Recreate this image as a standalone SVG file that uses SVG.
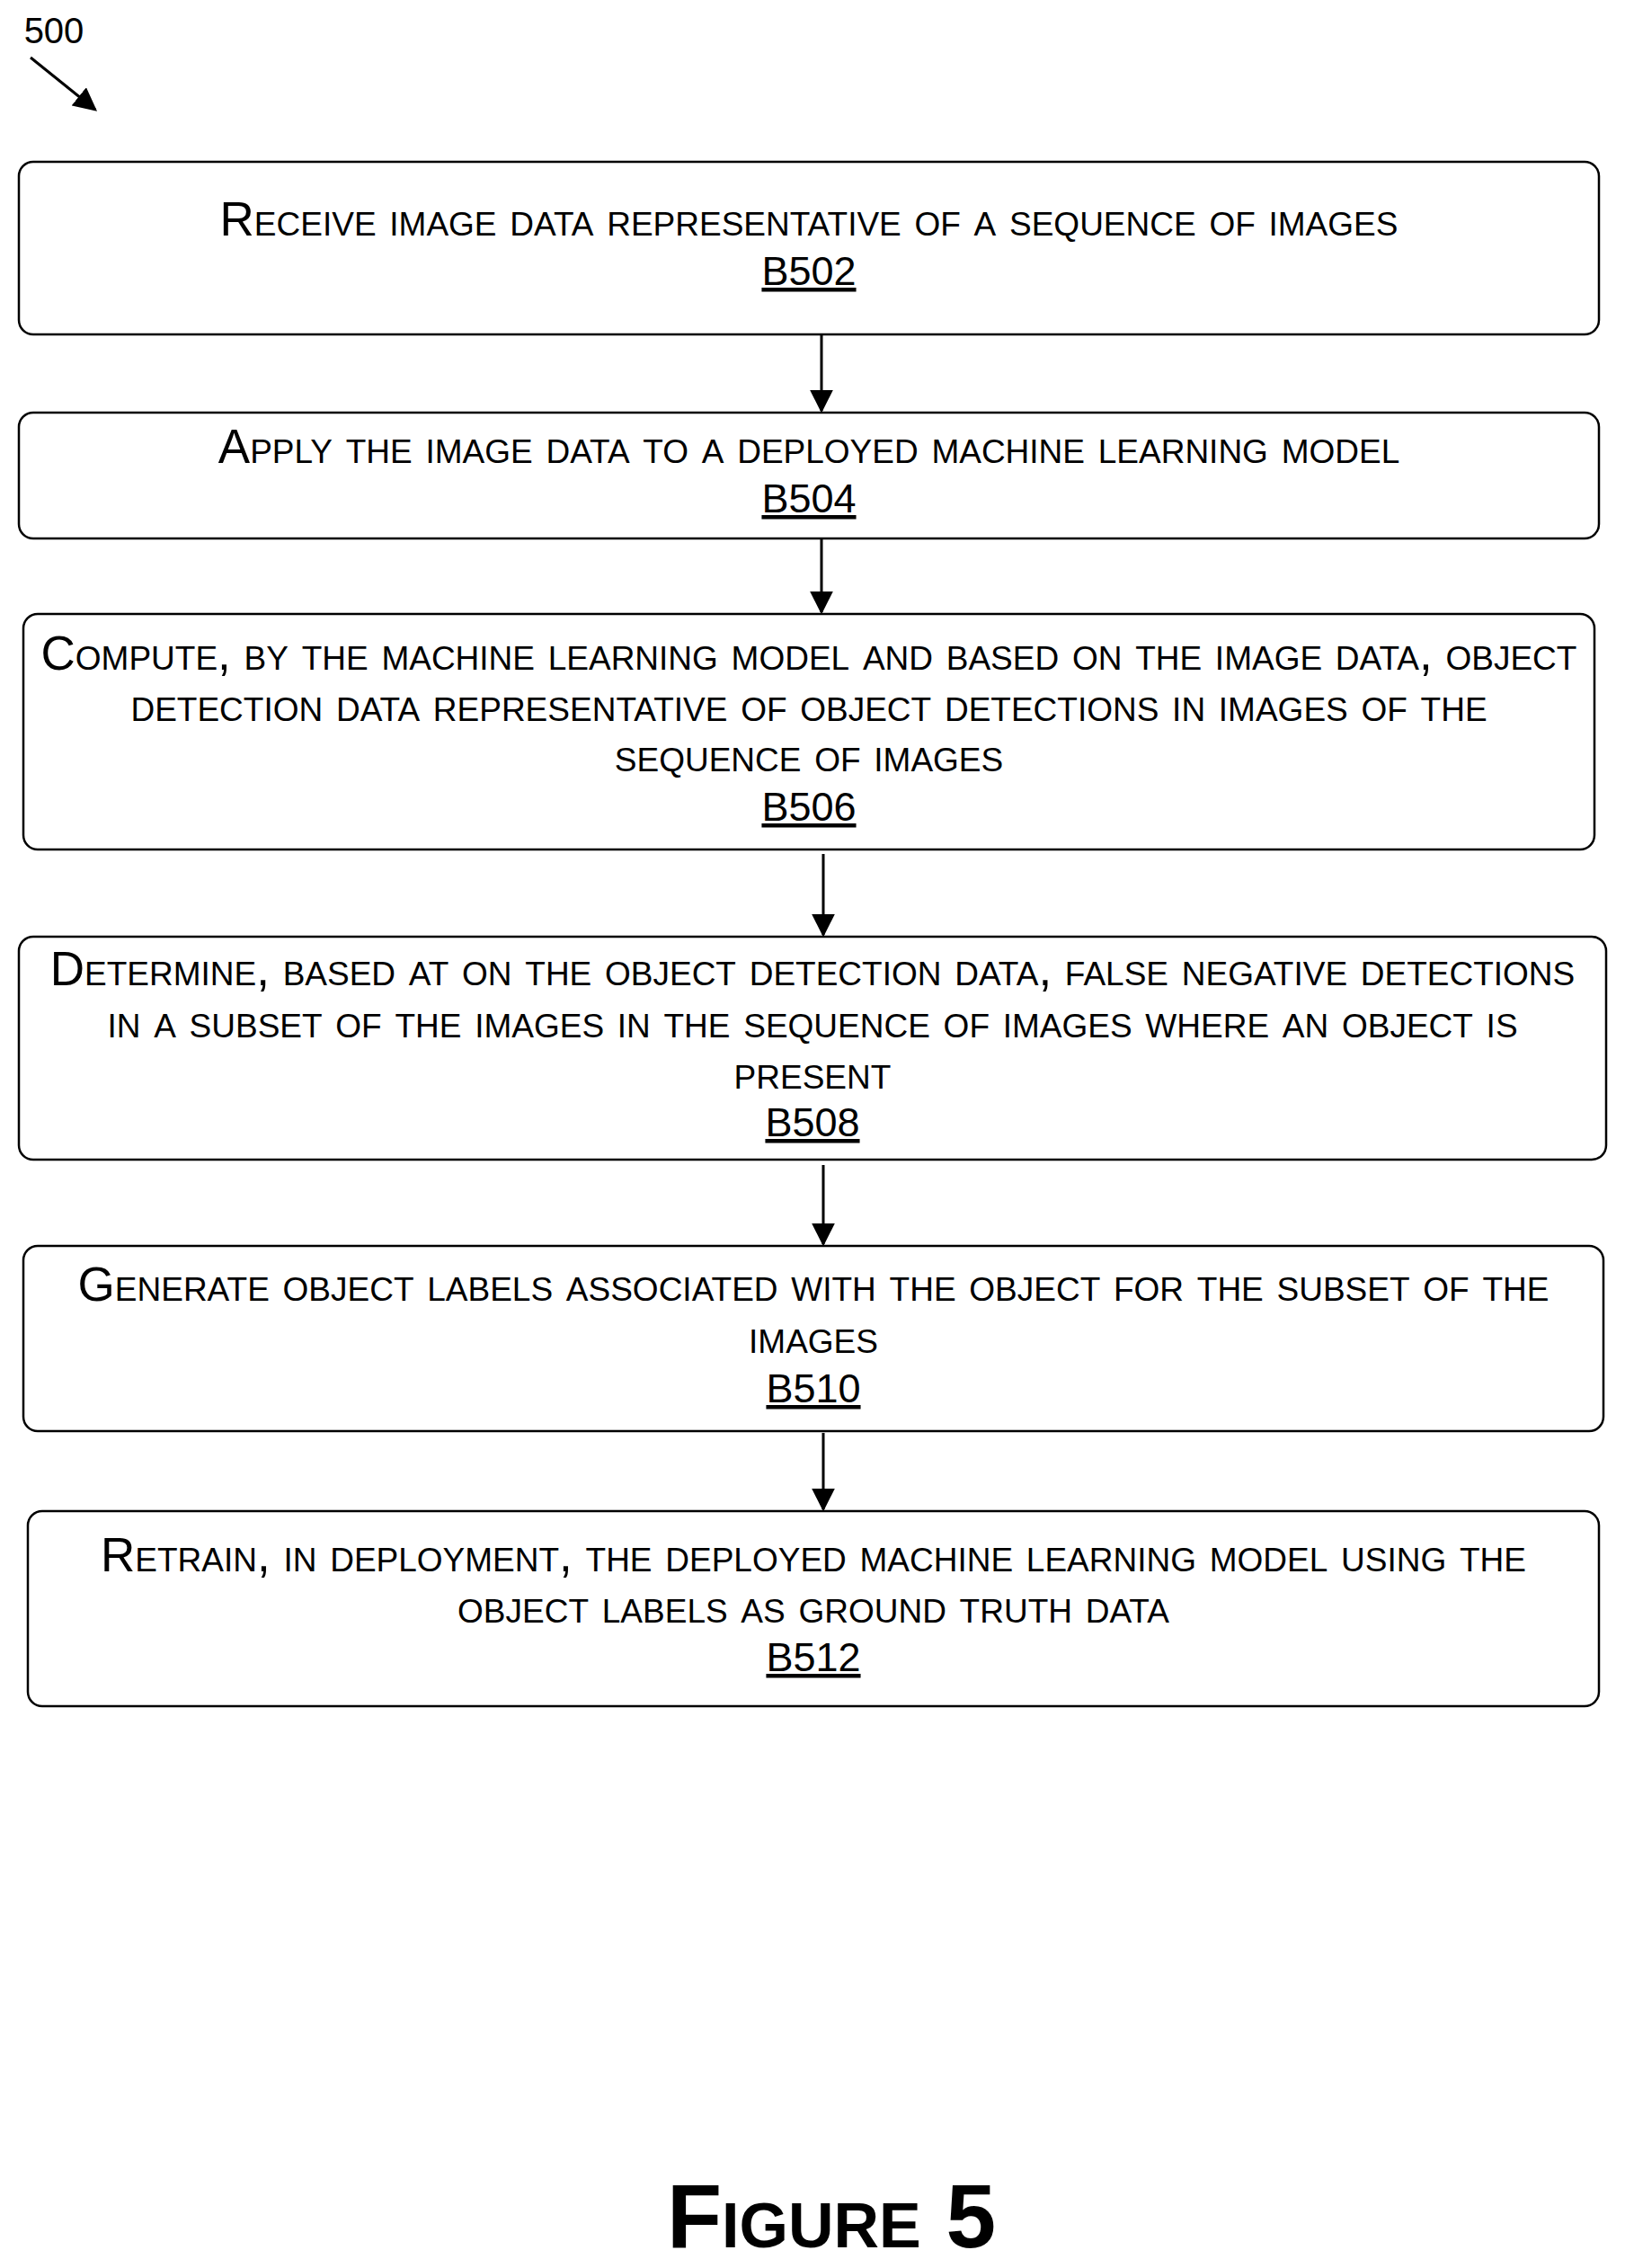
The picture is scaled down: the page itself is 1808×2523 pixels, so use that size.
<svg xmlns="http://www.w3.org/2000/svg" width="1808" height="2523" viewBox="0 0 1808 2523">
<style>
.b{fill:#fff;stroke:#000;stroke-width:2.5}
.t{font-family:"Liberation Sans",Arial,sans-serif;font-size:53px;font-variant:small-caps;text-anchor:middle;fill:#000}
.l{font-family:"Liberation Sans",Arial,sans-serif;font-size:45px;text-anchor:middle;text-decoration:underline;fill:#000}
.c{stroke:#000;stroke-width:3;fill:none;marker-end:url(#a2)}
</style>
<defs>
<marker id="a2" viewBox="0 0 10 10" refX="9" refY="5" markerWidth="26" markerHeight="26" orient="auto" markerUnits="userSpaceOnUse"><path d="M0,0L10,5L0,10z"/></marker></defs>
<text x="60" y="48" font-family="Liberation Sans,Arial,sans-serif" font-size="40" text-anchor="middle">500</text>
<path d="M34,64L106,122" stroke="#000" stroke-width="3" marker-end="url(#a2)"/>
<g id="B502"><rect class="b" x="21" y="180" width="1758" height="192" rx="16"/><text class="t" x="900" y="262">Receive image data representative of a sequence of images</text><text class="l" x="900" y="317">B502</text></g>
<g id="B504"><rect class="b" x="21" y="459" width="1758" height="140" rx="16"/><text class="t" x="900" y="515">Apply the image data to a deployed machine learning model</text><text class="l" x="900" y="570">B504</text></g>
<g id="B506"><rect class="b" x="26" y="683" width="1748" height="262" rx="16"/><text class="t" x="900" y="745">Compute, by the machine learning model and based on the image data, object</text><text class="t" x="900" y="802">detection data representative of object detections in images of the</text><text class="t" x="900" y="858">sequence of images</text><text class="l" x="900" y="913">B506</text></g>
<g id="B508"><rect class="b" x="21" y="1042" width="1766" height="248" rx="16"/><text class="t" x="904" y="1096">Determine, based at on the object detection data, false negative detections</text><text class="t" x="904" y="1154">in a subset of the images in the sequence of images where an object is</text><text class="t" x="904" y="1211">present</text><text class="l" x="904" y="1264">B508</text></g>
<g id="B510"><rect class="b" x="26" y="1386" width="1758" height="206" rx="16"/><text class="t" x="905" y="1447">Generate object labels associated with the object for the subset of the</text><text class="t" x="905" y="1505">images</text><text class="l" x="905" y="1560">B510</text></g>
<g id="B512"><rect class="b" x="31" y="1681" width="1748" height="217" rx="16"/><text class="t" x="905" y="1748">Retrain, in deployment, the deployed machine learning model using the</text><text class="t" x="905" y="1805">object labels as ground truth data</text><text class="l" x="905" y="1859">B512</text></g>
<g id="connectors" fill="none">
<path class="c" d="M914,372V457"/>
<path class="c" d="M914,599V681"/>
<path class="c" d="M916,950V1040"/>
<path class="c" d="M916,1296V1384"/>
<path class="c" d="M916,1594V1679"/>
</g>
<text x="925" y="2500" font-family="Liberation Sans,Arial,sans-serif" font-size="100" font-weight="bold" font-variant="small-caps" text-anchor="middle">Figure 5</text>
</svg>
